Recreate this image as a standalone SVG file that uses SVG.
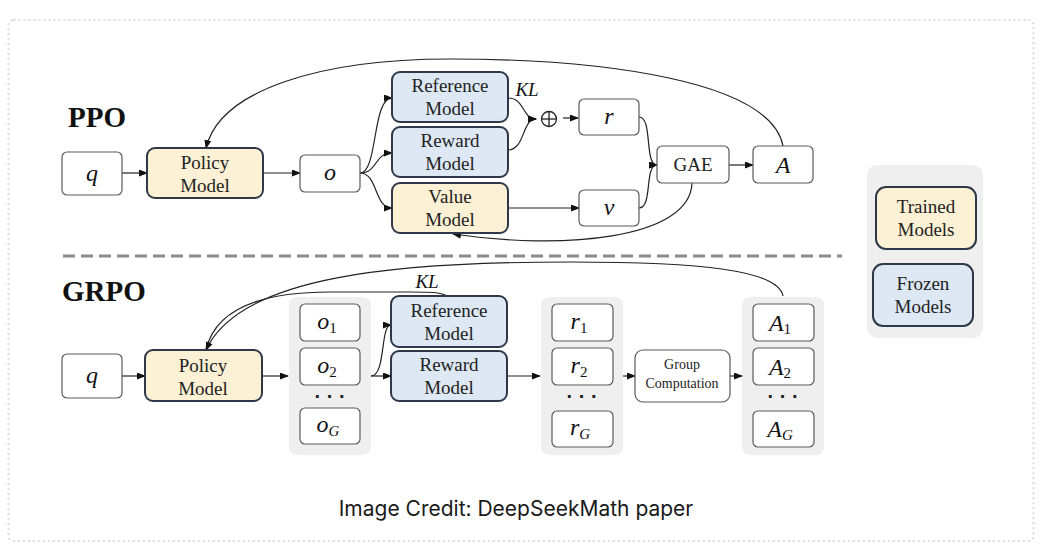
<svg xmlns="http://www.w3.org/2000/svg" width="1044" height="550" viewBox="0 0 1044 550">
<defs>
<style>
.frame{fill:none;stroke:#dcdcdc;stroke-width:2;stroke-dasharray:2 3}
.box{fill:#fff;stroke:#5a5a5a;stroke-width:1.2}
.trained{fill:#FCF1D4;stroke:#2E3849;stroke-width:2}
.frozen{fill:#DEE8F5;stroke:#2E3849;stroke-width:2}
.grp{fill:#EFEFEF}
.lbl{font-family:"Liberation Serif",serif;font-size:19px;fill:#222;text-anchor:middle}
.small{font-family:"Liberation Serif",serif;font-size:14px;fill:#222;text-anchor:middle}
.math{font-family:"Liberation Serif",serif;font-style:italic;font-size:24px;fill:#111;text-anchor:middle}
.sub{font-family:"Liberation Serif",serif;font-size:15px;font-style:normal}
.title{font-family:"Liberation Serif",serif;font-weight:bold;font-size:29px;fill:#111}
.conn path,.conn line{fill:none;stroke:#222;stroke-width:1.2}
.arr{marker-end:url(#ah)}
.dots{font-family:"Liberation Sans",sans-serif;font-size:20px;fill:#222;text-anchor:middle;font-weight:bold}
</style>
<marker id="ah" markerWidth="9" markerHeight="7" refX="8" refY="3.5" orient="auto" markerUnits="userSpaceOnUse">
<path d="M0,0 L9,3.5 L0,7 z" fill="#111"/>
</marker>
</defs>
<rect width="1044" height="550" fill="#fff"/>
<rect class="frame" x="8.5" y="20" width="1025" height="521" rx="5"/>

<text class="title" x="68" y="127">PPO</text>
<text class="title" x="62" y="301">GRPO</text>
<line x1="63" y1="256" x2="842" y2="256" stroke="#8a8a8a" stroke-width="3" stroke-dasharray="12 6"/>

<!-- group backgrounds -->
<rect class="grp" x="289" y="297" width="82" height="158" rx="8"/>
<rect class="grp" x="541" y="297" width="82" height="158" rx="8"/>
<rect class="grp" x="742" y="297" width="82" height="158" rx="8"/>
<rect class="grp" x="867" y="165" width="116" height="173" rx="10"/>

<g class="conn">
<!-- PPO -->
<line class="arr" x1="122" y1="173" x2="147" y2="173"/>
<line class="arr" x1="263" y1="173" x2="300" y2="173"/>
<path class="arr" d="M360,173 C378,173 372,98 392,98"/>
<path class="arr" d="M360,173 C378,173 374,153 392,153"/>
<path class="arr" d="M360,173 C378,173 374,208 392,208"/>
<path class="arr" d="M508,98 C525,98 522,119 536,119"/>
<path class="arr" d="M508,150 C525,150 522,119 536,119"/>
<line class="arr" x1="563" y1="118" x2="578" y2="118"/>
<path class="arr" d="M639,117 C653,117 644,165 657,165"/>
<path class="arr" d="M639,208 C653,208 644,165 657,165"/>
<line class="arr" x1="729" y1="165" x2="753" y2="165"/>
<line class="arr" x1="508" y1="208" x2="579" y2="208"/>
<path class="arr" d="M783,146 C770,80 600,59 450,59 C320,59 220,90 206,148"/>
<path class="arr" d="M692,183 C690,240 560,250 453,234"/>
<!-- GRPO -->
<line class="arr" x1="122" y1="376" x2="145" y2="376"/>
<line class="arr" x1="262" y1="376" x2="288" y2="376"/>
<path class="arr" d="M371,376 C386,376 380,325 391,325"/>
<line class="arr" x1="371" y1="376" x2="391" y2="376"/>
<path d="M447,296 C440,292 430,292 410,292 L330,292 C260,292 215,310 206,350"/>
<path class="arr" d="M783,296 C778,270 700,262 570,262 C400,262 240,275 206,350"/>
<line class="arr" x1="507" y1="376" x2="540" y2="376"/>
<line class="arr" x1="623" y1="376" x2="635" y2="376"/>
<line class="arr" x1="730" y1="376" x2="742" y2="376"/>
</g>

<!-- PPO nodes -->
<g id="ppo-q"><rect class="box" x="62" y="152" width="60" height="43" rx="5"/><text class="math" x="92" y="181">q</text></g>
<g id="ppo-policy"><rect class="trained" x="147" y="148" width="116" height="50" rx="8"/><text class="lbl" x="205" y="169">Policy</text><text class="lbl" x="205" y="192">Model</text></g>
<g id="ppo-o"><rect class="box" x="300" y="155" width="60" height="37" rx="5"/><text class="math" x="330" y="180">o</text></g>
<g id="ppo-ref"><rect class="frozen" x="392" y="72" width="116" height="50" rx="8"/><text class="lbl" x="450" y="92">Reference</text><text class="lbl" x="450" y="115">Model</text></g>
<g id="ppo-reward"><rect class="frozen" x="392" y="127" width="116" height="50" rx="8"/><text class="lbl" x="450" y="147">Reward</text><text class="lbl" x="450" y="170">Model</text></g>
<g id="ppo-value"><rect class="trained" x="392" y="183" width="116" height="50" rx="8"/><text class="lbl" x="450" y="203">Value</text><text class="lbl" x="450" y="226">Model</text></g>
<g id="ppo-kl"><text class="math" x="527" y="96" style="font-size:19px">KL</text></g>
<g id="ppo-plus"><circle cx="549" cy="119" r="7.5" fill="none" stroke="#222" stroke-width="1.3"/><line x1="541.5" y1="119" x2="556.5" y2="119" stroke="#222" stroke-width="1.3"/><line x1="549" y1="111.5" x2="549" y2="126.5" stroke="#222" stroke-width="1.3"/></g>
<g id="ppo-r"><rect class="box" x="579" y="99" width="60" height="36" rx="5"/><text class="math" x="609" y="124">r</text></g>
<g id="ppo-v"><rect class="box" x="579" y="190" width="60" height="36" rx="5"/><text class="math" x="609" y="215">v</text></g>
<g id="ppo-gae"><rect class="box" x="657" y="146" width="72" height="37" rx="5"/><text class="lbl" x="693" y="171">GAE</text></g>
<g id="ppo-a"><rect class="box" x="753" y="146" width="60" height="37" rx="5"/><text class="math" x="783" y="173">A</text></g>

<!-- GRPO nodes -->
<g id="grpo-q"><rect class="box" x="62" y="354" width="60" height="44" rx="5"/><text class="math" x="92" y="383">q</text></g>
<g id="grpo-policy"><rect class="trained" x="145" y="350" width="117" height="51" rx="8"/><text class="lbl" x="203" y="372">Policy</text><text class="lbl" x="203" y="395">Model</text></g>
<g id="grpo-o1"><rect class="box" x="300" y="304" width="60" height="37" rx="5"/><text class="math" x="327" y="329">o<tspan class="sub" dy="4">1</tspan></text></g>
<g id="grpo-o2"><rect class="box" x="300" y="348" width="60" height="37" rx="5"/><text class="math" x="327" y="373">o<tspan class="sub" dy="4">2</tspan></text></g>
<text class="dots" x="330" y="403">· · ·</text>
<g id="grpo-oG"><rect class="box" x="300" y="408" width="60" height="36" rx="5"/><text class="math" x="328" y="432">o<tspan class="sub" dy="4" style="font-style:italic">G</tspan></text></g>
<g id="grpo-kl"><text class="math" x="427" y="288" style="font-size:19px">KL</text></g>
<g id="grpo-ref"><rect class="frozen" x="391" y="296" width="116" height="51" rx="8"/><text class="lbl" x="449" y="317">Reference</text><text class="lbl" x="449" y="340">Model</text></g>
<g id="grpo-reward"><rect class="frozen" x="391" y="351" width="116" height="50" rx="8"/><text class="lbl" x="449" y="371">Reward</text><text class="lbl" x="449" y="394">Model</text></g>
<g id="grpo-r1"><rect class="box" x="552" y="304" width="61" height="37" rx="5"/><text class="math" x="579" y="329">r<tspan class="sub" dy="4">1</tspan></text></g>
<g id="grpo-r2"><rect class="box" x="552" y="348" width="61" height="37" rx="5"/><text class="math" x="579" y="373">r<tspan class="sub" dy="4">2</tspan></text></g>
<text class="dots" x="582" y="403">· · ·</text>
<g id="grpo-rG"><rect class="box" x="552" y="411" width="61" height="36" rx="5"/><text class="math" x="580" y="435">r<tspan class="sub" dy="4" style="font-style:italic">G</tspan></text></g>
<g id="grpo-gc"><rect class="box" x="635" y="350" width="95" height="52" rx="8"/><text class="small" x="682" y="369">Group</text><text class="small" x="682" y="388">Computation</text></g>
<g id="grpo-A1"><rect class="box" x="753" y="304" width="61" height="37" rx="5"/><text class="math" x="780" y="331">A<tspan class="sub" dy="3">1</tspan></text></g>
<g id="grpo-A2"><rect class="box" x="753" y="348" width="61" height="37" rx="5"/><text class="math" x="780" y="375">A<tspan class="sub" dy="3">2</tspan></text></g>
<text class="dots" x="783" y="403">· · ·</text>
<g id="grpo-AG"><rect class="box" x="753" y="411" width="61" height="36" rx="5"/><text class="math" x="780" y="437">A<tspan class="sub" dy="3" style="font-style:italic">G</tspan></text></g>

<!-- legend -->
<g id="legend-trained"><rect class="trained" x="876" y="187" width="100" height="62" rx="10"/><text class="lbl" x="926" y="213">Trained</text><text class="lbl" x="926" y="236">Models</text></g>
<g id="legend-frozen"><rect class="frozen" x="873" y="264" width="100" height="62" rx="10"/><text class="lbl" x="923" y="290">Frozen</text><text class="lbl" x="923" y="313">Models</text></g>

<text x="516" y="516" font-family="Inter, 'Noto Sans', sans-serif" font-size="21" fill="#1a1a1a" text-anchor="middle">Image Credit: DeepSeekMath paper</text>
</svg>
